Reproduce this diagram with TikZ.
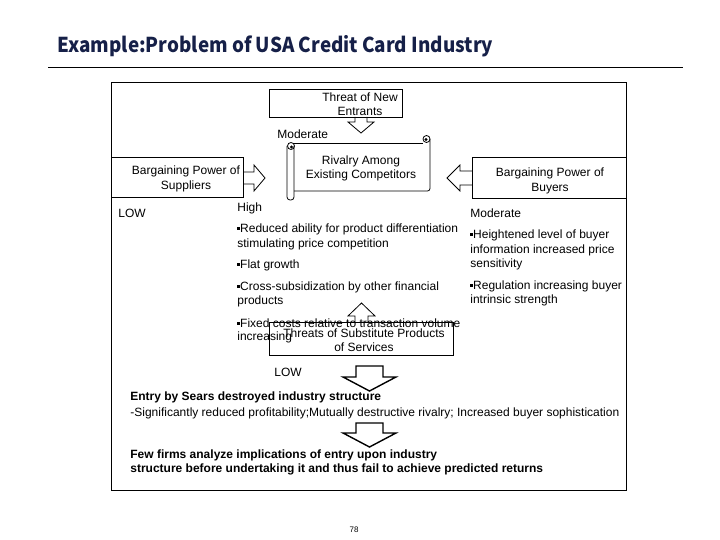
\documentclass[tikz,border=0pt]{standalone}
\usepackage{fontspec}
\setmainfont{Liberation Sans}
\newfontfamily\titlefont{Noto Sans CJK KR}
\definecolor{titleblue}{RGB}{22,32,72}
\newcommand{\bul}{\raisebox{2.6pt}{\rule{2.3pt}{2.3pt}}\hspace{0.5pt}}
\begin{document}
\begin{tikzpicture}[x=1pt,y=-1pt,line width=0.8pt,
  txt/.style={font=\fontsize{12}{14.5}\selectfont,inner sep=0pt,align=center},
  lbl/.style={font=\fontsize{12}{14.5}\selectfont,inner sep=0pt,anchor=west},
  bld/.style={font=\fontsize{12}{14}\selectfont\bfseries,inner sep=0pt,anchor=west},
  boxs/.style={draw,line width=0.8pt,inner sep=0pt},
  barrow/.style={draw,line width=0.8pt,line join=miter},
  bigarrow/.style={draw,line width=1.4pt,line join=miter}]
\useasboundingbox (0,0) rectangle (720,540);
% title
\node[anchor=base west,inner sep=0pt,font=\titlefont\bfseries\fontsize{20.5}{24}\selectfont,text=titleblue] (title) at (57,53) {\scalebox{0.92}[1]{Example:Problem of USA Credit Card Industry}};
\coordinate (ul1) at (48,68);
\coordinate (ul2) at (683,68);
\draw[line width=1pt] (ul1) -- (ul2);
% frame
\node[boxs,minimum width=515,minimum height=408] (frame) at (368.5,286) {};
% boxes
\node[boxs,minimum width=133,minimum height=28] (threat) at (335.5,103) {};
\node[boxs,minimum width=132,minimum height=40] (supp) at (177,177) {};
\node[boxs,minimum width=154,minimum height=41] (buy) at (549,177.5) {};
\node[boxs,minimum width=184,minimum height=33] (subst) at (361,338.5) {};
% scroll (rivalry)
\draw[rounded corners=3] (287,146) -- (287,200) -- (294,200) -- (294,146);
\draw (294,143) -- (423,143);
\draw[rounded corners=2.5] (294,191) -- (430,191) -- (430,139);
\draw (291,146) circle (3.5);
\fill (291.5,147) circle (1.6);
\draw (426.5,139) circle (3.5);
\fill (426,139.5) circle (1.6);
\node[inner sep=0pt,minimum width=137,minimum height=48] (rival) at (362,167) {};
% block arrows
\draw[barrow] (355,117) -- (355,122) -- (348,122) -- (361,133) -- (374,122) -- (367,122) -- (367,117);
\draw[barrow] (243,172) -- (254,172) -- (254,165) -- (265,178) -- (254,191) -- (254,184) -- (243,184);
\draw[barrow] (472,171) -- (460,171) -- (460,165) -- (447,178) -- (460,191) -- (460,185) -- (472,185);
\draw[barrow] (355,322) -- (355,316) -- (348,316) -- (361.5,303) -- (375,316) -- (368,316) -- (368,322);
\draw[bigarrow] (356,366) -- (383,366) -- (383,377) -- (396,377) -- (369.5,391) -- (343,377) -- (356,377) -- cycle;
\draw[bigarrow] (356,423) -- (383,423) -- (383,433) -- (396,433) -- (369.5,447) -- (343,433) -- (356,433) -- cycle;
% box texts
\node[txt] (threatT) at (360,104) {Threat of New\\Entrants};
\node[txt] (suppT) at (186,179) {Bargaining Power of\\Suppliers};
\node[txt] (buyT) at (550,181) {Bargaining Power of\\Buyers};
\node[txt] (rivalT) at (361,168.5) {Rivalry Among\\Existing Competitors};
\node[txt] (substT) at (364,340) {Threats of Substitute Products\\of Services};
% labels
\node[lbl] (m1) at (277,134) {Moderate};
\node[lbl] (low1) at (118,213) {LOW};
\node[lbl] (high) at (237,208) {High};
\node[lbl] (m2) at (470,213) {Moderate};
\node[lbl] (c1) at (237,229) {\bul Reduced ability for product differentiation};
\node[lbl] (c2) at (237,244) {stimulating price competition};
\node[lbl] (c3) at (237,265) {\bul Flat growth};
\node[lbl] (c4) at (237,287) {\bul Cross-subsidization by other financial};
\node[lbl] (c5) at (237,301) {products};
\node[lbl] (c6) at (237,323) {\bul Fixed costs relative to transaction volume};
\node[lbl] (c7) at (237,337) {increasing};
\node[lbl] (r1) at (470,235) {\bul Heightened level of buyer};
\node[lbl] (r2) at (470,250) {information increased price};
\node[lbl] (r3) at (470,264) {sensitivity};
\node[lbl] (r4) at (470,286) {\bul Regulation increasing buyer};
\node[lbl] (r5) at (470,300) {intrinsic strength};
\node[lbl] (low2) at (274,372) {LOW};
\node[bld] (e1) at (130,397) {Entry by Sears destroyed industry structure};
\node[lbl] (e2) at (130,413) {-Significantly reduced profitability;Mutually destructive rivalry; Increased buyer sophistication};
\node[bld] (f1) at (130,455) {Few firms analyze implications of entry upon industry};
\node[bld] (f2) at (130,469) {structure before undertaking it and thus fail to achieve predicted returns};
\node[inner sep=0pt,font=\fontsize{8}{9}\selectfont] (pg) at (354,530) {78};
\end{tikzpicture}
\end{document}
